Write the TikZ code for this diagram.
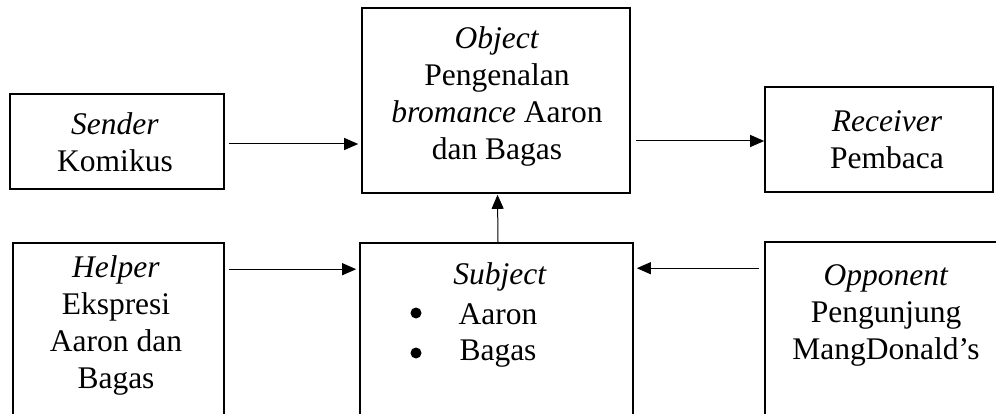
\documentclass[tikz,border=0pt]{standalone}
\usepackage{fontspec}
\setmainfont{Liberation Serif}
\usetikzlibrary{arrows.meta,calc}
\tikzset{
  box/.style={draw=black, line width=1.6pt, rectangle, inner sep=0pt},
  lbl/.style={align=center, inner sep=0pt, font=\fontsize{31.5}{37}\selectfont},
  dotmark/.style={circle, fill=black, inner sep=0pt, minimum size=11pt},
  conn/.style={line width=1pt, -{Triangle[length=14pt,width=12pt]}},
}
\begin{document}
\begin{tikzpicture}[x=1pt,y=-1pt]
\path[use as bounding box, clip] (0,0) rectangle (996,414);
\fill[white] (0,0) rectangle (996,414);
% boxes
\node[box, minimum width=214pt, minimum height=95pt] (sender) at (117,141.5) {};
\node[box, minimum width=268pt, minimum height=185pt] (object) at (496,100.5) {};
\node[box, minimum width=228pt, minimum height=105pt] (receiver) at (879,139.5) {};
\node[box, minimum width=211pt, minimum height=197pt] (helper) at (118.5,341.5) {};
\node[box, minimum width=273pt, minimum height=197pt] (subject) at (496.5,341.5) {};
\node[box, minimum width=245pt, minimum height=198pt] (opponent) at (887.5,341) {};
% texts
\node[lbl] (tsender) at (115,142) {\textit{Sender}\\Komikus};
\node[lbl] (tobject) at (497,96) {\textit{Object}\\Pengenalan\\\textit{bromance} Aaron\\dan Bagas};
\node[lbl] (treceiver) at (887,140) {\textit{Receiver}\\Pembaca};
\node[lbl] (thelper) at (116,325) {\textit{Helper}\\Ekspresi\\Aaron dan\\Bagas};
\node[lbl] (tsubject) at (500,277) {\textit{Subject}};
\node[dotmark] (b1) at (416,313) {};
\node[dotmark] (b2) at (416,353) {};
\node[lbl] (aaron) at (498,314) {Aaron};
\node[lbl] (bagas) at (498,354) {Bagas};
\node[lbl] (topponent) at (886,315) {\textit{Opponent}\\Pengunjung\\MangDonald’s};
% connectors
\draw[conn, shorten <=4pt, shorten >=3pt] ([yshift=-2.5pt]sender.east) -- ([yshift=-2.5pt]sender.east -| object.west);
\draw[conn, shorten <=5pt] ([yshift=-1.5pt]receiver.west -| object.east) -- ([yshift=-1.5pt]receiver.west);
\draw[conn, shorten <=4pt, shorten >=3pt] ([yshift=-27pt]helper.north east) -- ([yshift=-27pt]helper.north east -| subject.west);
\draw[conn, shorten <=5pt, shorten >=3pt] ([yshift=-27pt]opponent.north west) -- ([yshift=-27pt]opponent.north west -| subject.east);
\draw[conn, shorten >=1pt] ([xshift=1.5pt]subject.north) -- ([xshift=1.5pt]object.south);
\end{tikzpicture}
\end{document}
